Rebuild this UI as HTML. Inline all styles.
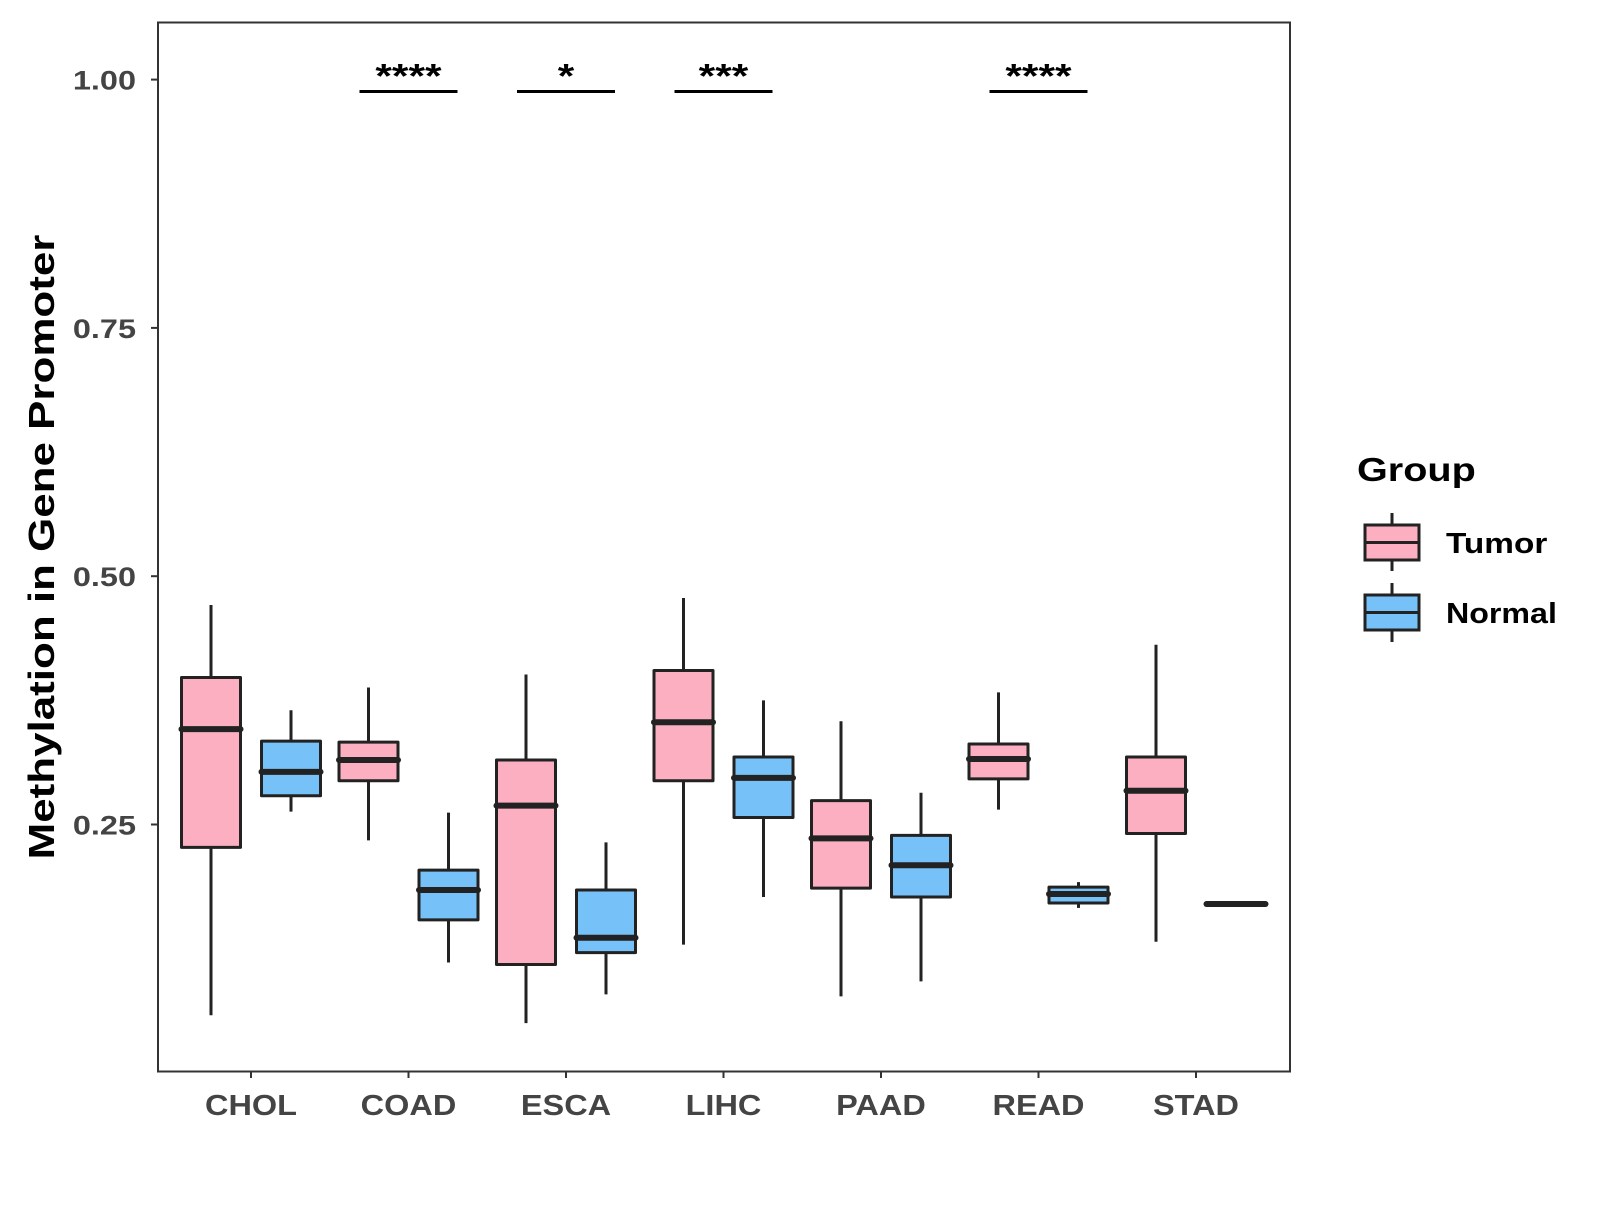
<!DOCTYPE html>
<html><head><meta charset="utf-8"><style>
html,body{margin:0;padding:0;background:#fff;}
svg text{font-family:"Liberation Sans",Arial,sans-serif;font-weight:bold;}
</style></head><body>
<svg id="chart" width="1600" height="1200" viewBox="0 0 1600 1200" xmlns="http://www.w3.org/2000/svg">
<rect x="158" y="22.5" width="1132" height="1049" fill="#fff" stroke="#333" stroke-width="2"/>
<g id="marks"></g>
<text class="st" data-f="1.22" transform="translate(54,547) rotate(-90)" text-anchor="middle" font-size="36" fill="#000">Methylation in Gene Promoter</text>
<g>
<text class="st" data-f="1.2" x="1357" y="481" font-size="33" fill="#000">Group</text>
<g>
<line x1="1392" y1="513" x2="1392" y2="571" stroke="#222" stroke-width="3"/>
<rect x="1365" y="525" width="54" height="35" fill="#fbafc0" stroke="#222" stroke-width="3"/>
<line x1="1365" y1="542.5" x2="1419" y2="542.5" stroke="#222" stroke-width="3"/>
<text class="st" data-f="1.15" x="1446" y="553" font-size="29" fill="#000">Tumor</text>
</g>
<g>
<line x1="1392" y1="583" x2="1392" y2="642" stroke="#222" stroke-width="3"/>
<rect x="1365" y="595" width="54" height="35" fill="#76c1f8" stroke="#222" stroke-width="3"/>
<line x1="1365" y1="612.5" x2="1419" y2="612.5" stroke="#222" stroke-width="3"/>
<text class="st" data-f="1.11" x="1446" y="623" font-size="29" fill="#000">Normal</text>
</g>
</g>
</svg>
<script>
const categories=["CHOL","COAD","ESCA","LIHC","PAAD","READ","STAD"];
// [lower whisker, Q1, median, Q3, upper whisker]
const tumorStats=[[0.058,0.227,0.346,0.398,0.471],[0.234,0.294,0.315,0.333,0.388],[0.050,0.109,0.269,0.315,0.401],[0.129,0.294,0.353,0.405,0.478],[0.077,0.186,0.236,0.274,0.354],[0.265,0.296,0.316,0.331,0.383],[0.132,0.241,0.284,0.318,0.431]];
const normalStats=[[0.263,0.279,0.303,0.334,0.365],[0.111,0.154,0.184,0.204,0.262],[0.079,0.121,0.136,0.184,0.232],[0.177,0.257,0.297,0.318,0.375],[0.092,0.177,0.209,0.239,0.282],[0.166,0.171,0.180,0.187,0.192],[0.170,0.170,0.170,0.170,0.170]];
const yTicks=[0.25,0.50,0.75,1.00];
const yTickLabels=["0.25","0.50","0.75","1.00"];
const sigCategories=["COAD","ESCA","LIHC","READ"];
const sigLabels=["****","*","***","****"];
const sigLevel=[0.988];

const NS="http://www.w3.org/2000/svg";
const g=document.getElementById('marks');
function y(v){return 824.5-(v-0.25)*993.2;}
function x(i){return 251+i*157.5;}
function el(t,a){const e=document.createElementNS(NS,t);for(const k in a)e.setAttribute(k,a[k]);g.appendChild(e);return e;}

yTicks.forEach((v,i)=>{
  const t=el('line',{x1:151,x2:158,y1:y(v),y2:y(v),stroke:'#333','stroke-width':2});
  
  
  const l=el('text',{x:136,y:y(v)+10,'text-anchor':'end','font-size':27,fill:'#444',class:'st','data-f':'1.2'});
  l.textContent=yTickLabels[i];
  
  
});
categories.forEach((c,i)=>{
  const t=el('line',{x1:x(i),x2:x(i),y1:1071,y2:1078,stroke:'#333','stroke-width':2});
  
  
  const l=el('text',{x:x(i),y:1115,'text-anchor':'middle','font-size':29,fill:'#444',class:'st','data-f':'1.12'});
  l.textContent=c;
  
  
});
function box(cx,s,fill,name){
  const w=59;
  const gr=document.createElementNS(NS,'g');g.appendChild(gr);
  
  
  const mk=(t,a)=>{const e=document.createElementNS(NS,t);for(const k in a)e.setAttribute(k,a[k]);gr.appendChild(e);return e;};
  mk('line',{x1:cx,x2:cx,y1:y(s[0]),y2:y(s[4]),stroke:'#222','stroke-width':3});
  mk('rect',{x:cx-w/2,y:y(s[3]),width:w,height:Math.max(0,y(s[1])-y(s[3])),fill:fill,stroke:'#222','stroke-width':3,'stroke-linejoin':'round'});
  mk('line',{x1:cx-w/2,x2:cx+w/2,y1:y(s[2]),y2:y(s[2]),stroke:'#222','stroke-width':6,'stroke-linecap':'round'});
}
categories.forEach((c,i)=>{
  box(x(i)-40,tumorStats[i],'#fbafc0','box-tumor-'+c.toLowerCase());
  box(x(i)+40,normalStats[i],'#76c1f8','box-normal-'+c.toLowerCase());
});
sigCategories.forEach((c,k)=>{
  const i=categories.indexOf(c);
  const b=el('line',{x1:x(i)-49,x2:x(i)+49,y1:y(sigLevel[0]),y2:y(sigLevel[0]),stroke:'#000','stroke-width':3});
  
  
  const t=el('text',{x:x(i),y:y(sigLevel[0])-4,'text-anchor':'middle','font-size':34,fill:'#000',class:'st','data-f':'1.25'});
  t.textContent=sigLabels[k];
  
  
});
document.querySelectorAll('text.st').forEach(t=>{
  const f=parseFloat(t.getAttribute('data-f'));
  const L=t.getComputedTextLength();
  t.setAttribute('textLength',(L*f).toFixed(1));
  t.setAttribute('lengthAdjust','spacingAndGlyphs');
});
</script>
</body></html>
